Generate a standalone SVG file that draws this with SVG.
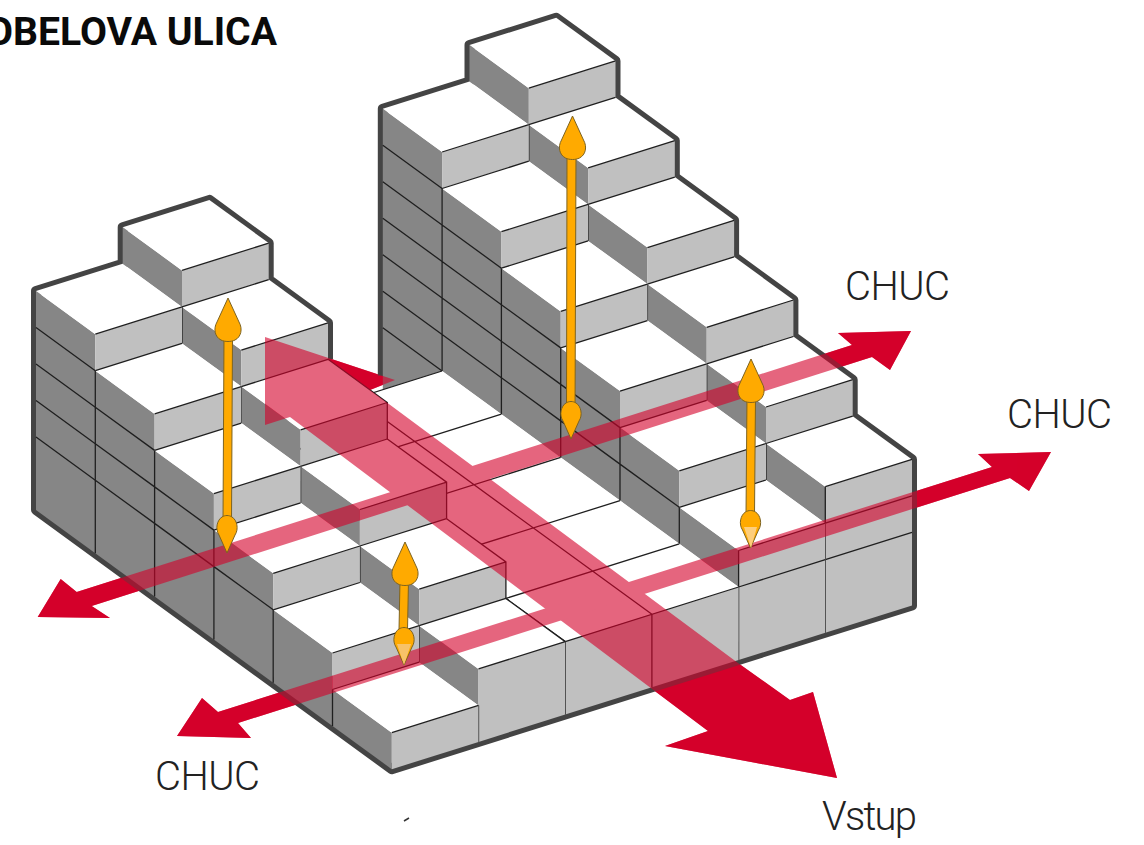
<svg xmlns="http://www.w3.org/2000/svg" width="1144" height="845" viewBox="0 0 1144 845">
<style>
.t{fill:#fff}
.l{fill:#868686}
.f{fill:#c0c0c0}
.e{fill:none;stroke:#1f1f1f;stroke-width:1.3}
.red{fill:#d4002a}
.hd{fill:#ffaa00;stroke:#7d6320;stroke-width:1}
.lab{font-family:Roboto,"Liberation Sans",sans-serif;font-weight:300;font-size:40px;fill:#222}
</style>
<defs>
<path id="up" d="M0 0L11 24C15 31 13 39 7 42C3 44 -3 44 -7 42C-13 39 -15 31 -11 24Z"/>
<path id="down" d="M0 0L-8 -18C-12 -24 -10 -33 -5 -36C-2 -38 2 -38 5 -36C10 -33 12 -24 8 -18Z"/>
<g id="arrows">
<polygon points="265,337 395,380 370,390 738,663 790,700 813,692 837,778 665,746 708,731 290,417 265,425"/>
<polygon points="37.7,617 60.7,579 76.7,592 852,345 838,333 911,331 890,370 872,357 91.7,606 110,618"/>
<polygon points="177,736 202,698 218,712 992,467 978,454 1051,452 1029,491 1010,478 238,723 251,738"/>
</g>
</defs>
<use id="red-base" href="#arrows" class="red"/>
<path id="outline" fill="none" stroke="#444" stroke-width="10" stroke-linejoin="round" d="M328 359.3V322.8L268.7 279.6V243.1L209.4 199.9L122.7 227.2V263.7L36 291V510L391.8 769.2L912 605.4V459.4L852.7 416.2V379.7L793.4 336.5V300L734.1 256.8V220.3L674.8 177.1V140.6L615.5 97.4V60.9L556.2 17.7L469.5 45V81.5L382.8 108.8V376"/>
<g id="cells">
<g id="c50"><polygon class="l" points="469.5,45 528.8,88.2 528.8,124.7 469.5,81.5"/><polygon class="f" points="528.8,88.2 615.5,60.9 615.5,97.4 528.8,124.7"/><polygon class="t" points="469.5,45 556.2,17.7 615.5,60.9 528.8,88.2"/><path class="e" d="M528.8 88.2L615.5 60.9"/></g>
<g id="c51"><polygon class="l" points="528.8,124.7 588.1,167.9 588.1,204.4 528.8,161.2"/><polygon class="f" points="588.1,167.9 674.8,140.6 674.8,177.1 588.1,204.4"/><polygon class="t" points="528.8,124.7 615.5,97.4 674.8,140.6 588.1,167.9"/><path class="e" d="M528.8 124.7L615.5 97.4M588.1 167.9L674.8 140.6M528.8 124.7V161.2"/></g>
<g id="c52"><polygon class="l" points="588.1,204.4 647.4,247.6 647.4,284.1 588.1,240.9"/><polygon class="f" points="647.4,247.6 734.1,220.3 734.1,256.8 647.4,284.1"/><polygon class="t" points="588.1,204.4 674.8,177.1 734.1,220.3 647.4,247.6"/><path class="e" d="M588.1 204.4L674.8 177.1M647.4 247.6L734.1 220.3M588.1 204.4V240.9"/></g>
<g id="c53"><polygon class="l" points="647.4,284.1 706.7,327.3 706.7,363.8 647.4,320.6"/><polygon class="f" points="706.7,327.3 793.4,300 793.4,336.5 706.7,363.8"/><polygon class="t" points="647.4,284.1 734.1,256.8 793.4,300 706.7,327.3"/><path class="e" d="M647.4 284.1L734.1 256.8M706.7 327.3L793.4 300M647.4 284.1V320.6"/></g>
<g id="c54"><polygon class="l" points="706.7,363.8 766,407 766,443.5 706.7,400.3"/><polygon class="f" points="766,407 852.7,379.7 852.7,416.2 766,443.5"/><polygon class="t" points="706.7,363.8 793.4,336.5 852.7,379.7 766,407"/><path class="e" d="M706.7 363.8L793.4 336.5M766 407L852.7 379.7M706.7 363.8V400.3"/></g>
<g id="c55"><polygon class="l" points="766,443.5 825.3,486.7 825.3,523.2 766,480"/><polygon class="f" points="825.3,486.7 912,459.4 912,605.4 825.3,632.7"/><polygon class="t" points="766,443.5 852.7,416.2 912,459.4 825.3,486.7"/><path class="e" d="M766 443.5L852.7 416.2M825.3 486.7L912 459.4M825.3 523.2L912 495.9M825.3 559.7L912 532.4M825.3 486.7V632.7M766 443.5V480"/></g>
<g id="c40"><polygon class="l" points="382.8,108.8 442.1,152 442.1,444 382.8,400.8"/><polygon class="f" points="442.1,152 528.8,124.7 528.8,161.2 442.1,188.5"/><polygon class="t" points="382.8,108.8 469.5,81.5 528.8,124.7 442.1,152"/><path class="e" d="M442.1 152L528.8 124.7M382.8 145.3L442.1 188.5M382.8 181.8L442.1 225M382.8 218.3L442.1 261.5M382.8 254.8L442.1 298M382.8 291.3L442.1 334.5M382.8 327.8L442.1 371"/></g>
<g id="c41"><polygon class="l" points="442.1,188.5 501.4,231.7 501.4,414.2 442.1,371"/><polygon class="f" points="501.4,231.7 588.1,204.4 588.1,240.9 501.4,268.2"/><polygon class="t" points="442.1,188.5 528.8,161.2 588.1,204.4 501.4,231.7"/><path class="e" d="M442.1 188.5L528.8 161.2M501.4 231.7L588.1 204.4M442.1 225L501.4 268.2M442.1 261.5L501.4 304.7M442.1 298L501.4 341.2M442.1 334.5L501.4 377.7M442.1 188.5V371"/></g>
<g id="c42"><polygon class="l" points="501.4,268.2 560.7,311.4 560.7,457.4 501.4,414.2"/><polygon class="f" points="560.7,311.4 647.4,284.1 647.4,320.6 560.7,347.9"/><polygon class="t" points="501.4,268.2 588.1,240.9 647.4,284.1 560.7,311.4"/><path class="e" d="M501.4 268.2L588.1 240.9M560.7 311.4L647.4 284.1M501.4 304.7L560.7 347.9M501.4 341.2L560.7 384.4M501.4 377.7L560.7 420.9M501.4 268.2V414.2"/></g>
<g id="c43"><polygon class="l" points="560.7,347.9 620,391.1 620,500.6 560.7,457.4"/><polygon class="f" points="620,391.1 706.7,363.8 706.7,400.3 620,427.6"/><polygon class="t" points="560.7,347.9 647.4,320.6 706.7,363.8 620,391.1"/><path class="e" d="M560.7 347.9L647.4 320.6M620 391.1L706.7 363.8M560.7 384.4L620 427.6M560.7 420.9L620 464.1M560.7 347.9V457.4"/></g>
<g id="c44"><polygon class="l" points="620,427.6 679.3,470.8 679.3,543.8 620,500.6"/><polygon class="f" points="679.3,470.8 766,443.5 766,480 679.3,507.3"/><polygon class="t" points="620,427.6 706.7,400.3 766,443.5 679.3,470.8"/><path class="e" d="M620 427.6L706.7 400.3M679.3 470.8L766 443.5M620 464.1L679.3 507.3M620 427.6V500.6"/></g>
<g id="c45"><polygon class="l" points="679.3,507.3 738.6,550.5 738.6,587 679.3,543.8"/><polygon class="f" points="738.6,550.5 825.3,523.2 825.3,632.7 738.6,660"/><polygon class="t" points="679.3,507.3 766,480 825.3,523.2 738.6,550.5"/><path class="e" d="M679.3 507.3L766 480M738.6 550.5L825.3 523.2M738.6 587L825.3 559.7M679.3 507.3V543.8M738.6 550.5V660"/></g>
<g id="plaza"><polygon class="f" points="565.2,641.6 738.6,587 738.6,660 565.2,714.6"/><polygon class="t" points="268.7,425.6 442.1,371 738.6,587 565.2,641.6"/><path class="e" d="M268.7 425.6L442.1 371M328 468.8L501.4 414.2M387.3 512L560.7 457.4M446.6 555.2L620 500.6M505.9 598.4L679.3 543.8M565.2 641.6L738.6 587M355.4 398.3L651.9 614.3M268.7 425.6L565.2 641.6M651.9 614.3V687.3M565.2 641.6V714.6"/></g>
<g id="c10"><polygon class="l" points="122.7,227.2 182,270.4 182,306.9 122.7,263.7"/><polygon class="f" points="182,270.4 268.7,243.1 268.7,279.6 182,306.9"/><polygon class="t" points="122.7,227.2 209.4,199.9 268.7,243.1 182,270.4"/><path class="e" d="M182 270.4L268.7 243.1"/></g>
<g id="c11"><polygon class="l" points="182,306.9 241.3,350.1 241.3,386.6 182,343.4"/><polygon class="f" points="241.3,350.1 328,322.8 328,359.3 241.3,386.6"/><polygon class="t" points="182,306.9 268.7,279.6 328,322.8 241.3,350.1"/><path class="e" d="M182 306.9L268.7 279.6M241.3 350.1L328 322.8M182 306.9V343.4"/></g>
<g id="c12"><polygon class="l" points="241.3,386.6 300.6,429.8 300.6,466.3 241.3,423.1"/><polygon class="f" points="300.6,429.8 387.3,402.5 387.3,439 300.6,466.3"/><polygon class="t" points="241.3,386.6 328,359.3 387.3,402.5 300.6,429.8"/><path class="e" d="M241.3 386.6L328 359.3M300.6 429.8L387.3 402.5M328 359.3L387.3 402.5V439M241.3 386.6V423.1"/></g>
<g id="c13"><polygon class="l" points="300.6,466.3 359.9,509.5 359.9,546 300.6,502.8"/><polygon class="f" points="359.9,509.5 446.6,482.2 446.6,518.7 359.9,546"/><polygon class="t" points="300.6,466.3 387.3,439 446.6,482.2 359.9,509.5"/><path class="e" d="M300.6 466.3L387.3 439M359.9 509.5L446.6 482.2M387.3 439L446.6 482.2V518.7M300.6 466.3V502.8"/></g>
<g id="c14"><polygon class="l" points="359.9,546 419.2,589.2 419.2,625.7 359.9,582.5"/><polygon class="f" points="419.2,589.2 505.9,561.9 505.9,598.4 419.2,625.7"/><polygon class="t" points="359.9,546 446.6,518.7 505.9,561.9 419.2,589.2"/><path class="e" d="M359.9 546L446.6 518.7M419.2 589.2L505.9 561.9M446.6 518.7L505.9 561.9V598.4M359.9 546V582.5"/></g>
<g id="c15"><polygon class="l" points="419.2,625.7 478.5,668.9 478.5,705.4 419.2,662.2"/><polygon class="f" points="478.5,668.9 565.2,641.6 565.2,714.6 478.5,741.9"/><polygon class="t" points="419.2,625.7 505.9,598.4 565.2,641.6 478.5,668.9"/><path class="e" d="M419.2 625.7L505.9 598.4M478.5 668.9L565.2 641.6M505.9 598.4L565.2 641.6M419.2 625.7V662.2M478.5 705.4V741.9"/></g>
<g id="c00"><polygon class="l" points="36,291 95.3,334.2 95.3,553.2 36,510"/><polygon class="f" points="95.3,334.2 182,306.9 182,343.4 95.3,370.7"/><polygon class="t" points="36,291 122.7,263.7 182,306.9 95.3,334.2"/><path class="e" d="M95.3 334.2L182 306.9M36 327.5L95.3 370.7M36 364L95.3 407.2M36 400.5L95.3 443.7M36 437L95.3 480.2"/></g>
<g id="c01"><polygon class="l" points="95.3,370.7 154.6,413.9 154.6,596.4 95.3,553.2"/><polygon class="f" points="154.6,413.9 241.3,386.6 241.3,423.1 154.6,450.4"/><polygon class="t" points="95.3,370.7 182,343.4 241.3,386.6 154.6,413.9"/><path class="e" d="M95.3 370.7L182 343.4M154.6 413.9L241.3 386.6M95.3 407.2L154.6 450.4M95.3 443.7L154.6 486.9M95.3 480.2L154.6 523.4M95.3 370.7V553.2"/></g>
<g id="c02"><polygon class="l" points="154.6,450.4 213.9,493.6 213.9,639.6 154.6,596.4"/><polygon class="f" points="213.9,493.6 300.6,466.3 300.6,502.8 213.9,530.1"/><polygon class="t" points="154.6,450.4 241.3,423.1 300.6,466.3 213.9,493.6"/><path class="e" d="M154.6 450.4L241.3 423.1M213.9 493.6L300.6 466.3M154.6 486.9L213.9 530.1M154.6 523.4L213.9 566.6M154.6 450.4V596.4"/></g>
<g id="c03"><polygon class="l" points="213.9,530.1 273.2,573.3 273.2,682.8 213.9,639.6"/><polygon class="f" points="273.2,573.3 359.9,546 359.9,582.5 273.2,609.8"/><polygon class="t" points="213.9,530.1 300.6,502.8 359.9,546 273.2,573.3"/><path class="e" d="M213.9 530.1L300.6 502.8M273.2 573.3L359.9 546M213.9 566.6L273.2 609.8M213.9 530.1V639.6"/></g>
<g id="c04"><polygon class="l" points="273.2,609.8 332.5,653 332.5,726 273.2,682.8"/><polygon class="f" points="332.5,653 419.2,625.7 419.2,662.2 332.5,689.5"/><polygon class="t" points="273.2,609.8 359.9,582.5 419.2,625.7 332.5,653"/><path class="e" d="M273.2 609.8L359.9 582.5M332.5 653L419.2 625.7M273.2 609.8V682.8"/></g>
<g id="c05"><polygon class="l" points="332.5,689.5 391.8,732.7 391.8,769.2 332.5,726"/><polygon class="f" points="391.8,732.7 478.5,705.4 478.5,741.9 391.8,769.2"/><polygon class="t" points="332.5,689.5 419.2,662.2 478.5,705.4 391.8,732.7"/><path class="e" d="M332.5 689.5L419.2 662.2M391.8 732.7L478.5 705.4M332.5 689.5V726"/></g>
</g>
<use id="red-glass" href="#arrows" class="red" opacity="0.6"/>
<g id="lifts">
<g id="lift1"><polygon class="hd" points="224,335 232.5,335 231.5,522 223,522"/><use href="#up" class="hd" x="228" y="298"/><use href="#down" class="hd" x="227" y="553"/></g>
<g id="lift2"><polygon class="hd" points="567,152 576,152 575,415 566.500,415"/><use href="#up" class="hd" x="572.500" y="116"/><use href="#down" class="hd" x="571" y="439"/></g>
<g id="lift3"><polygon class="hd" points="747,395 755.500,395 754.500,515 746,515"/><use href="#up" class="hd" x="751" y="359"/><use href="#down" class="hd" x="750.500" y="548"/><polygon points="744,527 757,527 751,548" fill="#fdd28a" opacity="0.9"/></g>
<g id="lift4"><polygon class="hd" points="400,580 408.500,580 407.500,630 399,630"/><use href="#up" class="hd" x="405" y="542"/><use href="#down" class="hd" x="404" y="665"/><polygon points="397,644 411,644 404,665" fill="#f6c474" opacity="0.9"/></g>
</g>
<path d="M404 821L409 818" stroke="#333" stroke-width="1.5" fill="none"/>
<g id="labels">
<text x="-14" y="45" font-family="Roboto,'Liberation Sans',sans-serif" font-weight="700" font-size="39" fill="#0a0a0a" textLength="291" lengthAdjust="spacingAndGlyphs">OBELOVA ULICA</text>
<text class="lab" x="845" y="300" textLength="105" lengthAdjust="spacing">CHUC</text>
<text class="lab" x="1007" y="428" textLength="105" lengthAdjust="spacing">CHUC</text>
<text class="lab" x="155" y="790" textLength="105" lengthAdjust="spacing">CHUC</text>
<text class="lab" x="822" y="830" textLength="95" lengthAdjust="spacing">Vstup</text>
</g>
</svg>
